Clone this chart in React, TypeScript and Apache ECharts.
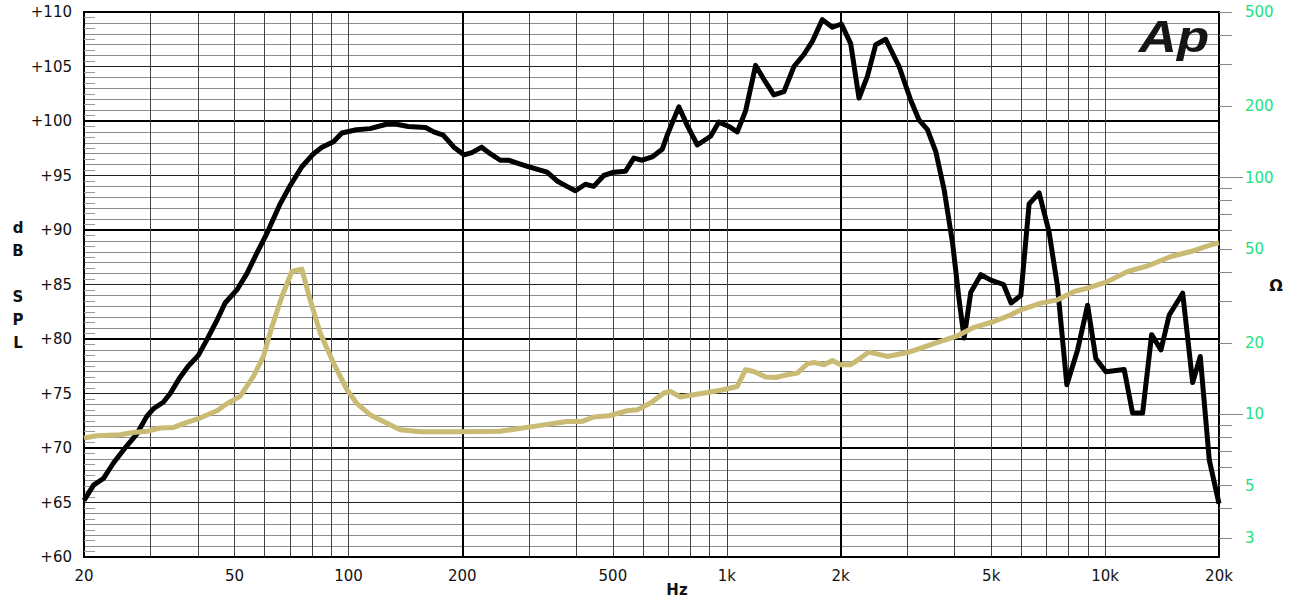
import React, { useEffect, useRef } from "react";
import * as echarts from "echarts";

// ---- data ----
const splFreq = [20, 21.2, 22.5, 23.9, 25.4, 27.6, 29.3, 30.5, 32.4, 33.8, 35.9, 37.7, 40.1, 42.2, 44.9, 47.2, 50.7, 53.9, 57.3, 60.9, 66, 70.2, 75.3, 80.9, 85.1, 91.3, 96.1, 105, 114, 126, 134, 144, 160, 168, 178, 190, 202, 212, 225, 237, 252, 265, 282, 300, 335, 356, 378, 398, 423, 445, 473, 503, 540, 568, 598, 635, 675, 696, 747, 786, 836, 906, 953, 1013, 1066, 1121, 1192, 1254, 1332, 1416, 1505, 1599, 1683, 1789, 1901, 2009, 2126, 2236, 2353, 2476, 2630, 2854, 3064, 3222, 3392, 3568, 3754, 3952, 4112, 4240, 4416, 4694, 4988, 5388, 5644, 5988, 6298, 6692, 7112, 7486, 7922, 8458, 8988, 9454, 10048, 11232, 11820, 12562, 13274, 14046, 14774, 16034, 17038, 17846, 18852, 20000];
const splDb = [65.2, 66.6, 67.2, 68.6, 69.8, 71.3, 72.9, 73.6, 74.2, 75.0, 76.5, 77.5, 78.5, 79.9, 81.7, 83.3, 84.5, 86.0, 87.9, 89.7, 92.4, 94.1, 95.8, 97.0, 97.6, 98.1, 98.9, 99.2, 99.3, 99.7, 99.7, 99.5, 99.4, 99.0, 98.7, 97.6, 96.9, 97.1, 97.6, 97.0, 96.4, 96.4, 96.1, 95.8, 95.3, 94.5, 94.0, 93.6, 94.2, 94.0, 95.0, 95.3, 95.4, 96.6, 96.4, 96.7, 97.4, 98.7, 101.3, 99.6, 97.8, 98.6, 99.9, 99.5, 99.0, 100.9, 105.1, 103.8, 102.4, 102.7, 105.0, 106.1, 107.3, 109.3, 108.6, 108.9, 107.1, 102.1, 104.1, 107.0, 107.5, 105.0, 101.9, 100.1, 99.2, 97.2, 93.7, 88.8, 83.6, 80.1, 84.3, 85.9, 85.4, 85.0, 83.3, 84.0, 92.4, 93.4, 89.8, 84.8, 75.8, 79.0, 83.1, 78.2, 77.0, 77.2, 73.2, 73.2, 80.4, 79.0, 82.2, 84.2, 76.0, 78.4, 68.9, 64.9];

const impFreq = [20, 21.6, 24.9, 27.0, 29.3, 31.8, 34.5, 37.4, 40.5, 44.9, 47.7, 51.7, 56.1, 59.6, 62.8, 66.7, 70.9, 75.3, 79.2, 84.2, 91.3, 99.1, 105, 114, 126, 137, 155, 198, 252, 309, 378, 415, 445, 488, 546, 580, 629, 682, 710, 754, 818, 888, 963, 1066, 1121, 1179, 1267, 1346, 1445, 1536, 1633, 1700, 1807, 1901, 2000, 2126, 2258, 2376, 2658, 3004, 3256, 3604, 4072, 4506, 5088, 5634, 5988, 6762, 7486, 8284, 8988, 10152, 11472, 12958, 14930, 16862, 18668, 20000];
const impOhm = [7.95, 8.13, 8.21, 8.39, 8.48, 8.76, 8.81, 9.25, 9.65, 10.36, 11.09, 11.91, 14.46, 17.57, 23.5, 31.46, 40.11, 41.05, 30.46, 22.04, 16.47, 12.71, 11.17, 9.97, 9.2, 8.62, 8.45, 8.45, 8.49, 8.9, 9.34, 9.34, 9.75, 9.87, 10.36, 10.46, 11.17, 12.31, 12.5, 11.84, 12.11, 12.38, 12.65, 13.12, 15.44, 15.18, 14.38, 14.32, 14.71, 14.94, 16.36, 16.57, 16.2, 16.89, 16.2, 16.2, 17.29, 18.33, 17.57, 18.25, 19.05, 20.12, 21.47, 23.32, 24.67, 26.33, 27.64, 29.51, 30.46, 33.02, 34.14, 36.39, 40.11, 42.4, 46.4, 48.71, 51.49, 53.17];

// ---- tick / grid lists ----
const freqLabels = [20, 50, 100, 200, 500, 1000, 2000, 5000, 10000, 20000];
const freqGridMinor = [30, 40, 50, 60, 70, 80, 90, 100, 300, 400, 500, 600, 700, 800, 900, 1000, 3000, 4000, 5000, 6000, 7000, 8000, 9000, 10000];
const freqGridMajor = [200, 2000];
const dbLabels = [60, 65, 70, 75, 80, 85, 90, 95, 100, 105, 110];
const dbMid = [65, 75, 85, 95, 105];
const dbMajor = [70, 80, 90, 100];
const ohmLabels = [3, 5, 10, 20, 50, 100, 200, 500];
const ohmTicks = [3, 4, 5, 6, 7, 8, 9, 10, 20, 30, 40, 50, 60, 70, 80, 90, 100, 200, 300, 400, 500];
const ohmDecadeTicks = [10, 100];

const dbMinor: number[] = [];
const dbHalf: number[] = [];
for (let v = 61; v < 110; v++) if (v % 5 !== 0) dbMinor.push(v);
for (let v = 60.5; v < 110; v += 1) dbHalf.push(v);

const LOG = Math.log10;
const X_MIN = LOG(20);
const X_MAX = LOG(20000);
const Z_MIN = LOG(2.5);
const Z_MAX = LOG(500);

const LABEL_FONT = "DejaVu Sans";
const GREEN = "#1de27a";
const TAN = "#c9ba74";

function fmtHz(v: number) {
  const f = Math.round(Math.pow(10, v));
  return f >= 1000 ? f / 1000 + "k" : String(f);
}

function hiddenY(pos: "left" | "right", min: number, max: number, values: number[], color: string, width: number) {
  return {
    type: "value",
    position: pos,
    min,
    max,
    axisLine: { show: false, onZero: false },
    axisTick: { show: false, customValues: values },
    axisLabel: { show: false },
    splitLine: { show: true, lineStyle: { color, width } },
  };
}

function buildOption() {
  return {
    animation: false,
    backgroundColor: "#ffffff",
    grid: { left: 84, right: 80, top: 12, bottom: 44, containLabel: false },
    xAxis: [
      {
        type: "value",
        position: "bottom",
        min: X_MIN,
        max: X_MAX,
        axisLine: { show: true, onZero: false, lineStyle: { color: "#000", width: 2 } },
        axisTick: { show: false, customValues: freqGridMinor.map(LOG) },
        axisLabel: {
          customValues: freqLabels.map(LOG),
          formatter: (v: number) => fmtHz(v),
          color: "#111",
          fontSize: 15,
          fontFamily: LABEL_FONT,
          margin: 11,
        },
        splitLine: { show: true, lineStyle: { color: "#444", width: 1 } },
      },
      {
        type: "value",
        position: "top",
        min: X_MIN,
        max: X_MAX,
        axisLine: { show: true, onZero: false, lineStyle: { color: "#000", width: 2 } },
        axisTick: { show: false, customValues: freqGridMajor.map(LOG) },
        axisLabel: { show: false },
        splitLine: { show: true, lineStyle: { color: "#000", width: 2 } },
      },
    ],
    yAxis: [
      {
        type: "value",
        position: "left",
        min: 60,
        max: 110,
        axisLine: { show: true, onZero: false, lineStyle: { color: "#000", width: 2 } },
        axisTick: { show: true, inside: true, length: 11, customValues: dbHalf, lineStyle: { color: "#999", width: 1 } },
        axisLabel: {
          customValues: dbLabels,
          formatter: (v: number) => "+" + v,
          color: "#111",
          fontSize: 15,
          fontFamily: LABEL_FONT,
          margin: 12,
        },
        splitLine: { show: false },
      },
      hiddenY("left", 60, 110, dbMinor, "#8c8c8c", 1),
      hiddenY("left", 60, 110, dbMid, "#222", 1),
      hiddenY("left", 60, 110, dbMajor, "#000", 2),
      {
        type: "value",
        position: "right",
        min: Z_MIN,
        max: Z_MAX,
        axisLine: { show: true, onZero: false, lineStyle: { color: "#000", width: 2 } },
        axisTick: { show: true, inside: false, length: 13, customValues: ohmTicks.map(LOG), lineStyle: { color: "#888", width: 1 } },
        axisLabel: {
          customValues: ohmLabels.map(LOG),
          formatter: (v: number) => String(Math.round(Math.pow(10, v))),
          color: GREEN,
          fontSize: 15,
          fontFamily: LABEL_FONT,
          margin: 26,
        },
        splitLine: { show: false },
      },
      {
        type: "value",
        position: "right",
        min: Z_MIN,
        max: Z_MAX,
        axisLine: { show: false, onZero: false },
        axisTick: { show: true, inside: false, length: 24, customValues: ohmDecadeTicks.map(LOG), lineStyle: { color: "#888", width: 1 } },
        axisLabel: { show: false },
        splitLine: { show: false },
      },
    ],
    graphic: [
      {
        type: "text",
        x: 18,
        y: 285.5,
        silent: true,
        style: {
          text: "d\nB\n\nS\nP\nL",
          fill: "#111",
          font: "bold 15px 'DejaVu Sans'",
          lineHeight: 23,
          textAlign: "center",
          textVerticalAlign: "middle",
        },
      },
      {
        type: "text",
        x: 677,
        y: 590,
        silent: true,
        style: { text: "Hz", fill: "#111", font: "bold 15px 'DejaVu Sans'", textAlign: "center", textVerticalAlign: "middle" },
      },
      {
        type: "text",
        x: 1276,
        y: 285,
        silent: true,
        style: { text: "Ω", fill: "#111", font: "bold 16px 'DejaVu Sans'", textAlign: "center", textVerticalAlign: "middle" },
      },
      {
        type: "text",
        x: 1174,
        y: 37,
        scaleX: 1.2,
        silent: true,
        z: 10,
        style: { text: "Ap", fill: "#151515", font: "italic bold 44px 'Liberation Sans'", textAlign: "center", textVerticalAlign: "middle" },
      },
    ],
    series: [
      {
        name: "SPL",
        type: "line",
        xAxisIndex: 0,
        yAxisIndex: 0,
        data: splFreq.map((f, i) => [LOG(f), splDb[i]]),
        symbol: "none",
        showSymbol: false,
        smooth: false,
        lineStyle: { color: "#000", width: 5, join: "round" },
        z: 3,
        silent: true,
      },
      {
        name: "Impedance",
        type: "line",
        xAxisIndex: 0,
        yAxisIndex: 4,
        data: impFreq.map((f, i) => [LOG(f), LOG(impOhm[i])]),
        symbol: "none",
        showSymbol: false,
        smooth: false,
        lineStyle: { color: TAN, width: 5, join: "round" },
        z: 4,
        silent: true,
      },
    ],
  };
}

export default function App() {
  const ref = useRef<HTMLDivElement>(null);
  useEffect(() => {
    if (!ref.current) return;
    const chart = echarts.init(ref.current, null, { renderer: "svg" });
    chart.setOption(buildOption() as any);
    return () => chart.dispose();
  }, []);
  return (
    <div
      ref={ref}
      style={{ position: "absolute", left: 0, top: 0, width: 1299, height: 601, background: "#fff" }}
    />
  );
}
